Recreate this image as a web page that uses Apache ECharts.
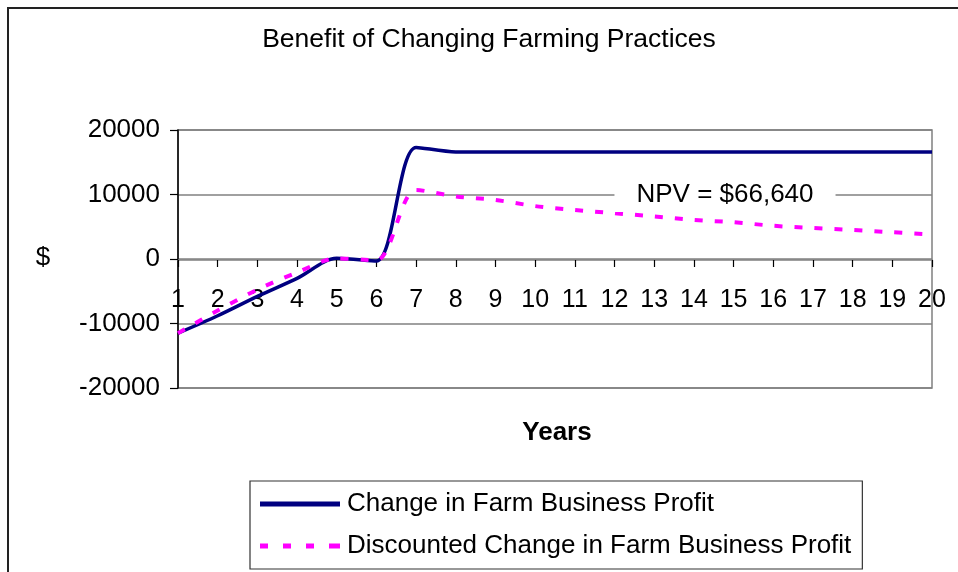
<!DOCTYPE html>
<html>
<head>
<meta charset="utf-8">
<script src="https://cdn.jsdelivr.net/npm/echarts@6/dist/echarts.min.js"></script>
<style>
html,body{margin:0;padding:0;background:#fff;}
#chart{width:958px;height:572px;}
</style>
</head>
<body>
<div id="chart"></div>
<script>
var titleText = 'Benefit of Changing Farming Practices';
var yAxisName = '$';
var xAxisName = 'Years';
var annotationText = 'NPV = $66,640';
var years = ['1','2','3','4','5','6','7','8','9','10','11','12','13','14','15','16','17','18','19','20'];
var seriesNames = ['Change in Farm Business Profit', 'Discounted Change in Farm Business Profit'];
var profit = [-11500, -8800, -5800, -3000, 100, -300, 17300, 16600, 16600, 16600, 16600, 16600, 16600, 16600, 16600, 16600, 16600, 16600, 16600, 16600];
var discounted = [-11500, -8000, -4750, -2100, 100, -200, 10700, 9700, 9150, 8200, 7600, 7100, 6600, 6050, 5700, 5150, 4800, 4500, 4150, 3800];
var yMin = -20000, yMax = 20000, yStep = 10000;

var FONT = 'Liberation Sans, Arial, sans-serif';
var solidIcon = 'path://M0,0h80v4.5h-80z';
var dashIcon = 'path://M0,0h8v4.5h-8zM23,0h8v4.5h-8zM46,0h8v4.5h-8zM69,0h11v4.5h-11z';
var chart = echarts.init(document.getElementById('chart'), null, {renderer: 'canvas'});
chart.setOption({
  animation: false,
  backgroundColor: '#ffffff',
  grid: {
    left: 178, right: 26, top: 130, bottom: 184,
    show: true, borderColor: '#808080', borderWidth: 1.5, backgroundColor: 'transparent'
  },
  xAxis: {
    type: 'category',
    data: years,
    boundaryGap: false,
    offset: -128,
    axisLine: {onZero: false, lineStyle: {color: '#808080', width: 1.5}},
    axisTick: {show: true, inside: false, length: 7, alignWithLabel: true, lineStyle: {color: '#000', width: 1.2}},
    axisLabel: {color: '#000', fontFamily: FONT, fontSize: 25, margin: 28, interval: 0},
    splitLine: {show: false}
  },
  yAxis: {
    type: 'value',
    min: yMin, max: yMax, interval: yStep,
    axisLine: {show: true, lineStyle: {color: '#000', width: 1.5}},
    axisTick: {show: true, length: 8, lineStyle: {color: '#000', width: 1.2}},
    axisLabel: {color: '#000', fontFamily: FONT, fontSize: 26, margin: 18, formatter: function (v) { return String(v); }},
    splitLine: {show: true, lineStyle: {color: '#808080', width: 1.5}}
  },
  legend: {
    orient: 'vertical',
    left: 250, top: 481,
    borderColor: '#333', borderWidth: 1.2,
    padding: [8, 11, 8, 10],
    itemWidth: 80, itemHeight: 5, itemGap: 12,
    symbolKeepAspect: false,
    textStyle: {color: '#000', fontFamily: FONT, fontSize: 26, lineHeight: 30, padding: [0, 0, 0, 2]},
    data: [
      {name: seriesNames[0], icon: solidIcon},
      {name: seriesNames[1], icon: dashIcon}
    ]
  },
  series: [
    {
      name: seriesNames[0], type: 'line', data: profit, smooth: 0.3,
      symbol: 'none', showSymbol: false,
      lineStyle: {color: '#000080', width: 3.5},
      itemStyle: {color: '#000080'}
    },
    {
      name: seriesNames[1], type: 'line', data: discounted, smooth: 0.3,
      symbol: 'none', showSymbol: false,
      lineStyle: {color: '#ff00ff', width: 4, type: [8, 12]},
      itemStyle: {color: '#ff00ff'}
    }
  ],
  graphic: [
    {type: 'rect', shape: {x: 8, y: 8, width: 1000, height: 1000}, style: {fill: 'none', stroke: '#222', lineWidth: 2}, silent: true, z: 100},
    {type: 'text', x: 489, y: 40, style: {text: titleText, font: '26.5px ' + FONT, fill: '#000', align: 'center', verticalAlign: 'middle'}},
    {type: 'text', x: 43, y: 258, style: {text: yAxisName, font: '26px ' + FONT, fill: '#000', align: 'center', verticalAlign: 'middle'}},
    {type: 'text', x: 557, y: 433, style: {text: xAxisName, font: 'bold 26px ' + FONT, fill: '#000', align: 'center', verticalAlign: 'middle'}},
    {type: 'text', x: 725, y: 195, z: 50, style: {text: annotationText, font: '26px ' + FONT, fill: '#000', align: 'center', verticalAlign: 'middle', backgroundColor: '#fff', padding: [4, 22, 4, 22]}}
  ]
});
</script>
</body>
</html>
